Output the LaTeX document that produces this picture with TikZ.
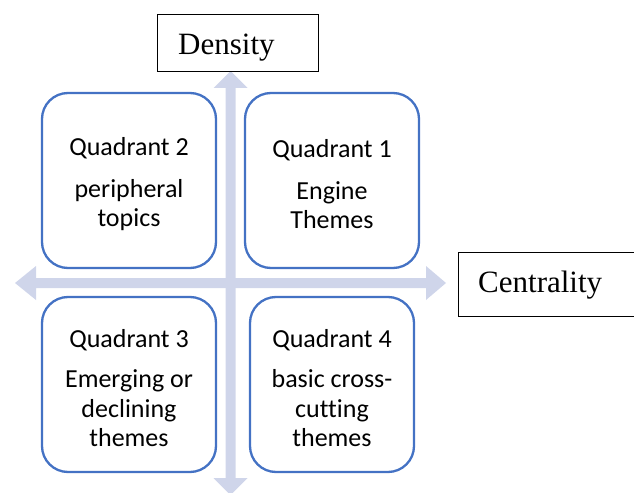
\documentclass[tikz,border=0pt]{standalone}
\usepackage{fontspec}
\setmainfont{Liberation Serif}
\newfontfamily\calibri[Ligatures=NoCommon]{Carlito}
\definecolor{quadblue}{HTML}{4472C4}
\definecolor{axisfill}{HTML}{CFD5EA}
\newcommand{\firststrut}{\rule{0pt}{25.5bp}}
\tikzset{
  quadbox/.style={draw=quadblue, line width=2.3bp, fill=white, rounded corners=26bp,
    minimum width=#1, minimum height=175bp, align=center, inner sep=0pt,
    font=\calibri\fontsize{26bp}{29.5bp}\selectfont},
  labelbox/.style={draw=black, line width=0.8bp, fill=white, inner sep=0pt},
  labeltext/.style={inner sep=0pt, anchor=base west, font=\fontsize{31bp}{36bp}\selectfont},
  axisarrow/.style={fill=axisfill, draw=none}
}
\begin{document}
\begin{tikzpicture}[x=1bp,y=-1bp]
\useasboundingbox (0,0) rectangle (634,493);
% axes (double-headed block arrows)
\coordinate (vtop) at (230.5,71);
\coordinate (vbot) at (230.5,495);
\coordinate (hleft) at (15,283);
\coordinate (hright) at (446,283);
\fill[axisarrow] (vtop) -- ++(17,17) -- ++(-12,0) -- (235.5,478) -- ++(12,0) -- (vbot)
  -- (213.5,478) -- ++(12,0) -- (225.5,88) -- ++(-12,0) -- cycle;
\fill[axisarrow] (hleft) -- ++(21,-17) -- ++(0,12) -- (426,278) -- ++(0,-12) -- (hright)
  -- (426,300) -- ++(0,-12) -- (36,288) -- ++(0,12) -- cycle;
% axis labels
\node[labelbox, minimum width=161bp, minimum height=57bp, anchor=north west] (density) at (157,14) {};
\node[labeltext] (densitytext) at (178,55) {Density};
\node[labelbox, minimum width=190bp, minimum height=64bp, anchor=north west] (centrality) at (458,252) {};
\node[labeltext] (centralitytext) at (478,292) {Centrality};
% quadrants
\node[quadbox=174bp] (q2) at (129,180.5) {\firststrut Quadrant 2\\[12bp]peripheral\\topics};
\node[quadbox=174bp] (q1) at (332,180.5) {\firststrut Quadrant 1\\[12bp]Engine\\Themes};
\node[quadbox=174bp] (q3) at (129,384.5) {\firststrut Quadrant 3\\[11bp]Emerging or\\declining\\themes};
\node[quadbox=164bp] (q4) at (332,384.5) {\firststrut Quadrant 4\\[11bp]basic cross-\\cutting\\themes};
\end{tikzpicture}
\end{document}
